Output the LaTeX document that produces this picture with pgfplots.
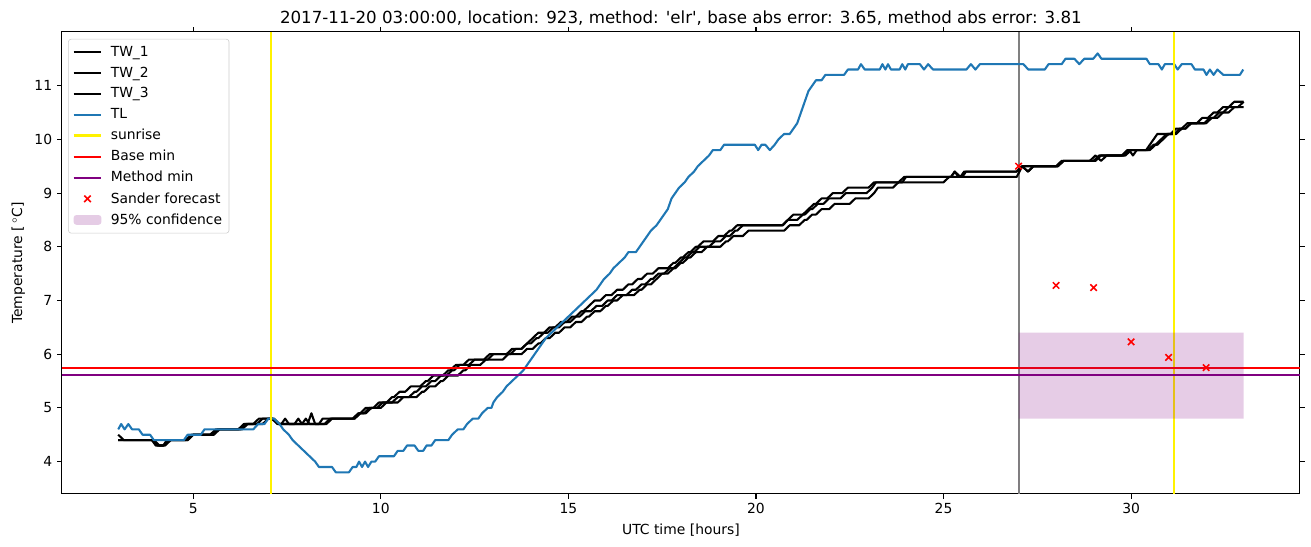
\documentclass[border=0pt]{standalone}
\usepackage{fontspec}
\setmainfont{DejaVu Sans}
\usepackage{pgfplots}
\pgfplotsset{compat=1.18}
\usetikzlibrary{calc}

\definecolor{tabblue}{HTML}{1F77B4}
\definecolor{mplpurple}{HTML}{800080}
\definecolor{mplgray}{HTML}{808080}

\pgfplotsset{
  lineleg/.style={legend image code/.code={\draw[##1] (0pt,0pt) -- (20pt,0pt); \path (24pt,0pt);}},
  markleg/.style={legend image code/.code={\draw[##1] plot coordinates {(10pt,0pt)}; \path (0pt,0pt) (24pt,0pt);}},
  boxleg/.style={legend image code/.code={\fill[##1] (0pt,-3.5pt) rectangle (20pt,3.5pt); \path (24pt,0pt);}},
}

\begin{document}
\begin{tikzpicture}
\begin{axis}[
    scale only axis,
    width=891.4pt, height=332.6pt,
    xmin=1.5, xmax=34.5,
    ymin=3.4, ymax=12.0,
    xtick={5,10,15,20,25,30},
    ytick={4,5,6,7,8,9,10,11},
    tick align=outside,
    major tick length=3.5pt,
    tick style={black, line width=0.8pt},
    axis line style={line width=0.8pt},
    every axis plot/.append style={line width=1.5pt, line join=round},
    /pgf/number format/assume math mode=true,
    ticklabel style={font=\fontsize{10}{12}\selectfont},
    xlabel={UTC time [hours]},
    ylabel={Temperature [\,$^\circ$C]},
    label style={font=\fontsize{10}{12}\selectfont},
    title={2017-11-20 03:00:00, location: 923, method: \textquotesingle elr\textquotesingle, base abs error: 3.65, method abs error: 3.81},
    title style={font=\fontsize{12}{14}\selectfont, yshift=-5pt},
    legend cell align=left,
    legend style={at={(axis description cs:0.005,0.985)}, anchor=north west,
        font=\fontsize{10}{12}\selectfont, draw=black!20, rounded corners=2pt,
        fill=white, fill opacity=0.8, text opacity=1, row sep=2.1pt,
        inner sep=3pt},
]

% grey marker at forecast start
\addplot[mplgray, forget plot] coordinates {(27,3.4) (27,12.0)};

\addplot[black, lineleg] coordinates {
(3.0,4.5) (3.15,4.4) (3.9,4.4) (4.05,4.3) (4.2,4.3) (4.35,4.4) (4.8,4.4) (4.95,4.5)
(5.45,4.5) (5.6,4.6) (6.2,4.6) (6.35,4.7) (6.6,4.7) (6.75,4.8) (7.1,4.8) (7.25,4.7)
(7.35,4.7) (7.45,4.8) (7.55,4.7) (7.7,4.7) (7.8,4.8) (7.9,4.7) (8.05,4.7) (8.15,4.9)
(8.25,4.7) (8.35,4.7) (8.45,4.8) (9.3,4.8) (9.45,4.9) (9.6,5.0) (9.8,5.0) (9.95,5.1)
(10.15,5.1) (10.3,5.2) (10.35,5.2) (10.5,5.3) (10.65,5.3) (10.8,5.4) (11.05,5.4) (11.2,5.5)
(11.25,5.5) (11.4,5.6) (11.65,5.6) (11.8,5.7) (11.85,5.7) (12.0,5.8) (12.2,5.8) (12.35,5.9)
(12.75,5.9) (12.9,6.0) (13.35,6.0) (13.5,6.1) (13.75,6.1) (13.9,6.2) (14.05,6.3) (14.2,6.4)
(14.35,6.4) (14.5,6.5) (14.65,6.5) (14.8,6.6) (14.95,6.6) (15.1,6.7) (15.2,6.7) (15.35,6.8)
(15.4,6.8) (15.55,6.9) (15.7,7.0) (15.85,7.0) (16.0,7.1) (16.15,7.1) (16.3,7.2) (16.45,7.2)
(16.6,7.3) (16.7,7.3) (16.85,7.4) (16.95,7.4) (17.1,7.5) (17.25,7.5) (17.4,7.6) (17.65,7.6)
(17.8,7.7) (17.85,7.7) (18.0,7.8) (18.05,7.8) (18.2,7.9) (18.25,7.9) (18.4,8.0) (18.45,8.0)
(18.6,8.1) (18.85,8.1) (19.0,8.2) (19.15,8.2) (19.3,8.3) (19.35,8.3) (19.5,8.4) (20.7,8.4)
(20.85,8.5) (21.0,8.6) (21.25,8.6) (21.4,8.7) (21.55,8.8) (21.6,8.8) (21.75,8.9) (21.9,8.9)
(22.05,9.0) (22.3,9.0) (22.45,9.1) (23.0,9.1) (23.15,9.2) (23.8,9.2) (23.95,9.3) (25.2,9.3)
(25.3,9.4) (25.4,9.3) (25.5,9.3) (25.6,9.4) (26.95,9.4) (27.1,9.5) (28.0,9.5) (28.15,9.6)
(29.0,9.6) (29.15,9.7) (29.75,9.7) (29.9,9.8) (30.4,9.8) (30.5,9.9) (30.6,10.0) (30.7,10.1)
(31.05,10.1) (31.2,10.2) (31.35,10.2) (31.5,10.3) (31.75,10.3) (31.9,10.4) (32.05,10.4)
(32.2,10.5) (32.3,10.5) (32.45,10.6) (32.6,10.6) (32.75,10.7) (33.0,10.7)
};
\addlegendentry{TW\_1}

\addplot[black, lineleg] coordinates {
(3.0,4.4) (3.95,4.4) (4.1,4.3) (4.2,4.3) (4.3,4.4) (4.85,4.4) (5.0,4.5) (5.55,4.5)
(5.7,4.6) (6.3,4.6) (6.45,4.7) (6.85,4.7) (7.0,4.8) (7.15,4.8) (7.3,4.7) (8.5,4.7)
(8.65,4.8) (9.25,4.8) (9.4,4.9) (9.55,4.9) (9.7,5.0) (10.0,5.0) (10.15,5.1) (10.45,5.1)
(10.6,5.2) (10.95,5.2) (11.1,5.3) (11.15,5.3) (11.3,5.4) (11.45,5.4) (11.6,5.5) (11.65,5.5)
(11.8,5.6) (12.05,5.6) (12.2,5.7) (12.25,5.7) (12.4,5.8) (12.65,5.8) (12.8,5.9) (13.25,5.9)
(13.4,6.0) (13.75,6.0) (13.9,6.1) (14.05,6.1) (14.2,6.2) (14.25,6.2) (14.4,6.3) (14.5,6.3)
(14.65,6.4) (14.75,6.4) (14.9,6.5) (15.05,6.5) (15.2,6.6) (15.35,6.6) (15.5,6.7) (15.55,6.7)
(15.7,6.8) (15.85,6.8) (16.0,6.9) (16.05,6.9) (16.2,7.0) (16.3,7.0) (16.45,7.1) (16.75,7.1)
(16.9,7.2) (16.95,7.2) (17.1,7.3) (17.2,7.3) (17.35,7.4) (17.5,7.5) (17.65,7.5) (17.8,7.6)
(17.85,7.6) (18.0,7.7) (18.05,7.7) (18.2,7.8) (18.25,7.8) (18.4,7.9) (18.55,7.9) (18.7,8.0)
(19.05,8.0) (19.2,8.1) (19.25,8.1) (19.4,8.2) (19.65,8.2) (19.8,8.3) (20.75,8.3) (20.9,8.4)
(21.15,8.4) (21.3,8.5) (21.35,8.5) (21.5,8.6) (21.6,8.6) (21.75,8.7) (21.95,8.7) (22.1,8.8)
(22.5,8.8) (22.65,8.9) (23.0,8.9) (23.15,9.0) (23.25,9.1) (23.65,9.1) (23.8,9.2) (25.0,9.2)
(25.15,9.3) (26.95,9.3) (27.1,9.5) (27.25,9.4) (27.4,9.5) (28.05,9.5) (28.2,9.6) (29.05,9.6)
(29.2,9.7) (29.8,9.7) (29.95,9.8) (30.05,9.7) (30.15,9.8) (30.45,9.8) (30.6,9.9) (30.7,9.9)
(30.85,10.0) (31.0,10.1) (31.15,10.1) (31.3,10.2) (31.45,10.2) (31.6,10.3) (32.0,10.3)
(32.15,10.4) (32.3,10.4) (32.45,10.5) (32.6,10.5) (32.75,10.6) (33.0,10.6)
};
\addlegendentry{TW\_2}

\addplot[black, lineleg] coordinates {
(3.0,4.4) (3.9,4.4) (4.0,4.3) (4.25,4.3) (4.4,4.4) (4.85,4.4) (5.0,4.5) (5.5,4.5)
(5.65,4.6) (6.25,4.6) (6.4,4.7) (6.7,4.7) (6.85,4.8) (7.1,4.8) (7.25,4.7) (7.9,4.7)
(8.0,4.8) (8.1,4.7) (8.55,4.7) (8.7,4.8) (9.3,4.8) (9.45,4.9) (9.6,4.9) (9.75,5.0)
(9.9,5.0) (10.05,5.1) (10.3,5.1) (10.45,5.2) (10.75,5.2) (10.9,5.3) (10.95,5.3) (11.1,5.4)
(11.2,5.4) (11.35,5.5) (11.45,5.5) (11.6,5.6) (11.75,5.6) (11.9,5.7) (11.95,5.7) (12.1,5.8)
(12.35,5.8) (12.5,5.9) (12.85,5.9) (13.0,6.0) (13.45,6.0) (13.6,6.1) (13.75,6.1) (13.9,6.2)
(14.0,6.2) (14.15,6.3) (14.2,6.3) (14.35,6.4) (14.45,6.4) (14.6,6.5) (14.75,6.5) (14.9,6.6)
(15.05,6.6) (15.2,6.7) (15.3,6.7) (15.45,6.8) (15.6,6.8) (15.75,6.9) (15.9,6.9) (16.05,7.0)
(16.15,7.0) (16.3,7.1) (16.55,7.1) (16.7,7.2) (16.8,7.2) (16.95,7.3) (17.05,7.3) (17.2,7.4)
(17.25,7.4) (17.4,7.5) (17.55,7.5) (17.7,7.6) (17.8,7.6) (17.95,7.7) (18.1,7.8) (18.15,7.8)
(18.3,7.9) (18.35,7.9) (18.5,8.0) (18.75,8.0) (18.9,8.1) (19.05,8.1) (19.2,8.2) (19.3,8.2)
(19.45,8.3) (19.5,8.3) (19.65,8.4) (20.72,8.4) (20.85,8.5) (21.1,8.5) (21.25,8.6) (21.3,8.6)
(21.45,8.7) (21.5,8.7) (21.65,8.8) (21.8,8.8) (21.95,8.9) (22.25,8.9) (22.4,9.0) (22.95,9.0)
(23.1,9.1) (23.2,9.2) (23.9,9.2) (24.0,9.3) (25.2,9.3) (25.3,9.4) (25.45,9.3) (25.55,9.4)
(26.95,9.4) (27.1,9.5) (27.25,9.4) (27.4,9.5) (28.05,9.5) (28.2,9.6) (28.9,9.6) (29.05,9.7)
(29.2,9.6) (29.35,9.7) (29.85,9.7) (30.0,9.8) (30.5,9.8) (30.65,9.9) (30.8,10.0) (30.95,10.1)
(31.2,10.1) (31.35,10.2) (31.45,10.2) (31.6,10.3) (31.95,10.3) (32.1,10.4) (32.2,10.4)
(32.35,10.5) (32.45,10.5) (32.6,10.6) (32.85,10.6) (33.0,10.7)
};
\addlegendentry{TW\_3}

\addplot[tabblue, lineleg] coordinates {
(3.0,4.6) (3.08,4.7) (3.17,4.6) (3.27,4.7) (3.37,4.6) (3.55,4.6) (3.65,4.5) (3.85,4.5)
(3.95,4.4) (4.75,4.4) (4.85,4.5) (5.2,4.5) (5.3,4.6) (6.6,4.6) (6.73,4.7) (6.9,4.7)
(7.0,4.8) (7.15,4.8) (7.3,4.7) (7.4,4.6) (7.55,4.5) (7.65,4.4) (7.8,4.3) (7.95,4.2)
(8.1,4.1) (8.25,4.0) (8.35,3.9) (8.7,3.9) (8.8,3.8) (9.15,3.8) (9.25,3.9) (9.35,3.9)
(9.42,4.0) (9.5,3.9) (9.58,4.0) (9.66,3.9) (9.75,4.0) (9.85,4.0) (9.95,4.1) (10.35,4.1)
(10.45,4.2) (10.6,4.2) (10.7,4.3) (10.9,4.3) (11.0,4.2) (11.13,4.2) (11.22,4.3) (11.35,4.3)
(11.45,4.4) (11.8,4.4) (11.9,4.5) (12.05,4.6) (12.2,4.6) (12.3,4.7) (12.45,4.8) (12.6,4.8)
(12.7,4.9) (12.85,5.0) (12.95,5.0) (13.0,5.1) (13.1,5.2) (13.25,5.3) (13.35,5.4) (13.5,5.5)
(13.65,5.6) (13.8,5.7) (13.9,5.8) (14.0,5.9) (14.1,6.0) (14.2,6.1) (14.3,6.2) (14.4,6.3)
(14.55,6.4) (14.7,6.5) (14.85,6.6) (15.0,6.7) (15.15,6.8) (15.3,6.9) (15.45,7.0) (15.6,7.1)
(15.75,7.2) (15.85,7.3) (15.95,7.4) (16.1,7.5) (16.2,7.6) (16.35,7.7) (16.5,7.8) (16.6,7.9)
(16.8,7.9) (16.9,8.0) (17.0,8.1) (17.1,8.2) (17.2,8.3) (17.35,8.4) (17.45,8.5) (17.55,8.6)
(17.65,8.7) (17.75,8.9) (17.85,9.0) (17.95,9.1) (18.1,9.2) (18.2,9.3) (18.35,9.4) (18.45,9.5)
(18.6,9.6) (18.75,9.7) (18.85,9.8) (19.05,9.8) (19.15,9.9) (19.97,9.9) (20.06,9.8) (20.15,9.9)
(20.25,9.9) (20.37,9.8) (20.5,9.9) (20.6,10.0) (20.75,10.1) (20.9,10.1) (21.0,10.2) (21.1,10.3)
(21.2,10.5) (21.3,10.7) (21.4,10.9) (21.5,11.0) (21.6,11.1) (21.75,11.1) (21.85,11.2)
(22.35,11.2) (22.45,11.3) (22.72,11.3) (22.8,11.4) (22.9,11.3) (23.3,11.3) (23.37,11.4)
(23.45,11.3) (23.52,11.4) (23.6,11.3) (23.83,11.3) (23.9,11.4) (23.98,11.3) (24.05,11.4)
(24.37,11.4) (24.48,11.3) (24.59,11.4) (24.72,11.3) (25.61,11.3) (25.73,11.4) (25.85,11.3)
(25.97,11.4) (27.13,11.4) (27.26,11.3) (27.7,11.3) (27.8,11.4) (28.15,11.4) (28.25,11.5)
(28.49,11.5) (28.62,11.4) (28.75,11.5) (28.99,11.5) (29.11,11.6) (29.21,11.5) (30.41,11.5)
(30.5,11.4) (30.73,11.4) (30.82,11.3) (30.9,11.4) (31.15,11.4) (31.24,11.3) (31.35,11.4)
(31.61,11.4) (31.7,11.3) (31.93,11.3) (32.01,11.2) (32.1,11.3) (32.2,11.2) (32.3,11.3)
(32.46,11.2) (32.9,11.2) (32.99,11.3)
};
\addlegendentry{TL}

\addplot[yellow, lineleg] coordinates {(7.08,3.4) (7.08,12.0)};
\addlegendentry{sunrise}
\addplot[yellow, forget plot] coordinates {(31.14,3.4) (31.14,12.0)};

\addplot[red, lineleg] coordinates {(1.5,5.75) (34.5,5.75)};
\addlegendentry{Base min}

\addplot[mplpurple, lineleg] coordinates {(1.5,5.62) (34.5,5.62)};
\addlegendentry{Method min}

\addplot[red, only marks, mark=x, mark size=3.3pt, mark options={line width=1.1pt}, markleg] coordinates {
(27,9.5) (28,7.28) (29,7.24) (30,6.23) (31,5.94) (32,5.75)
};
\addlegendentry{Sander forecast}

\addplot[fill=mplpurple, fill opacity=0.2, draw=none, boxleg] coordinates {
(27,4.8) (33,4.8) (33,6.4) (27,6.4)
} \closedcycle;
\addlegendentry{95\% confidence}

\end{axis}
\pgfresetboundingbox
\path[use as bounding box] ($(current axis.south west)+(-44.6pt,-38.2pt)$) rectangle ($(current axis.north east)+(8pt,23pt)$);
\end{tikzpicture}
\end{document}
